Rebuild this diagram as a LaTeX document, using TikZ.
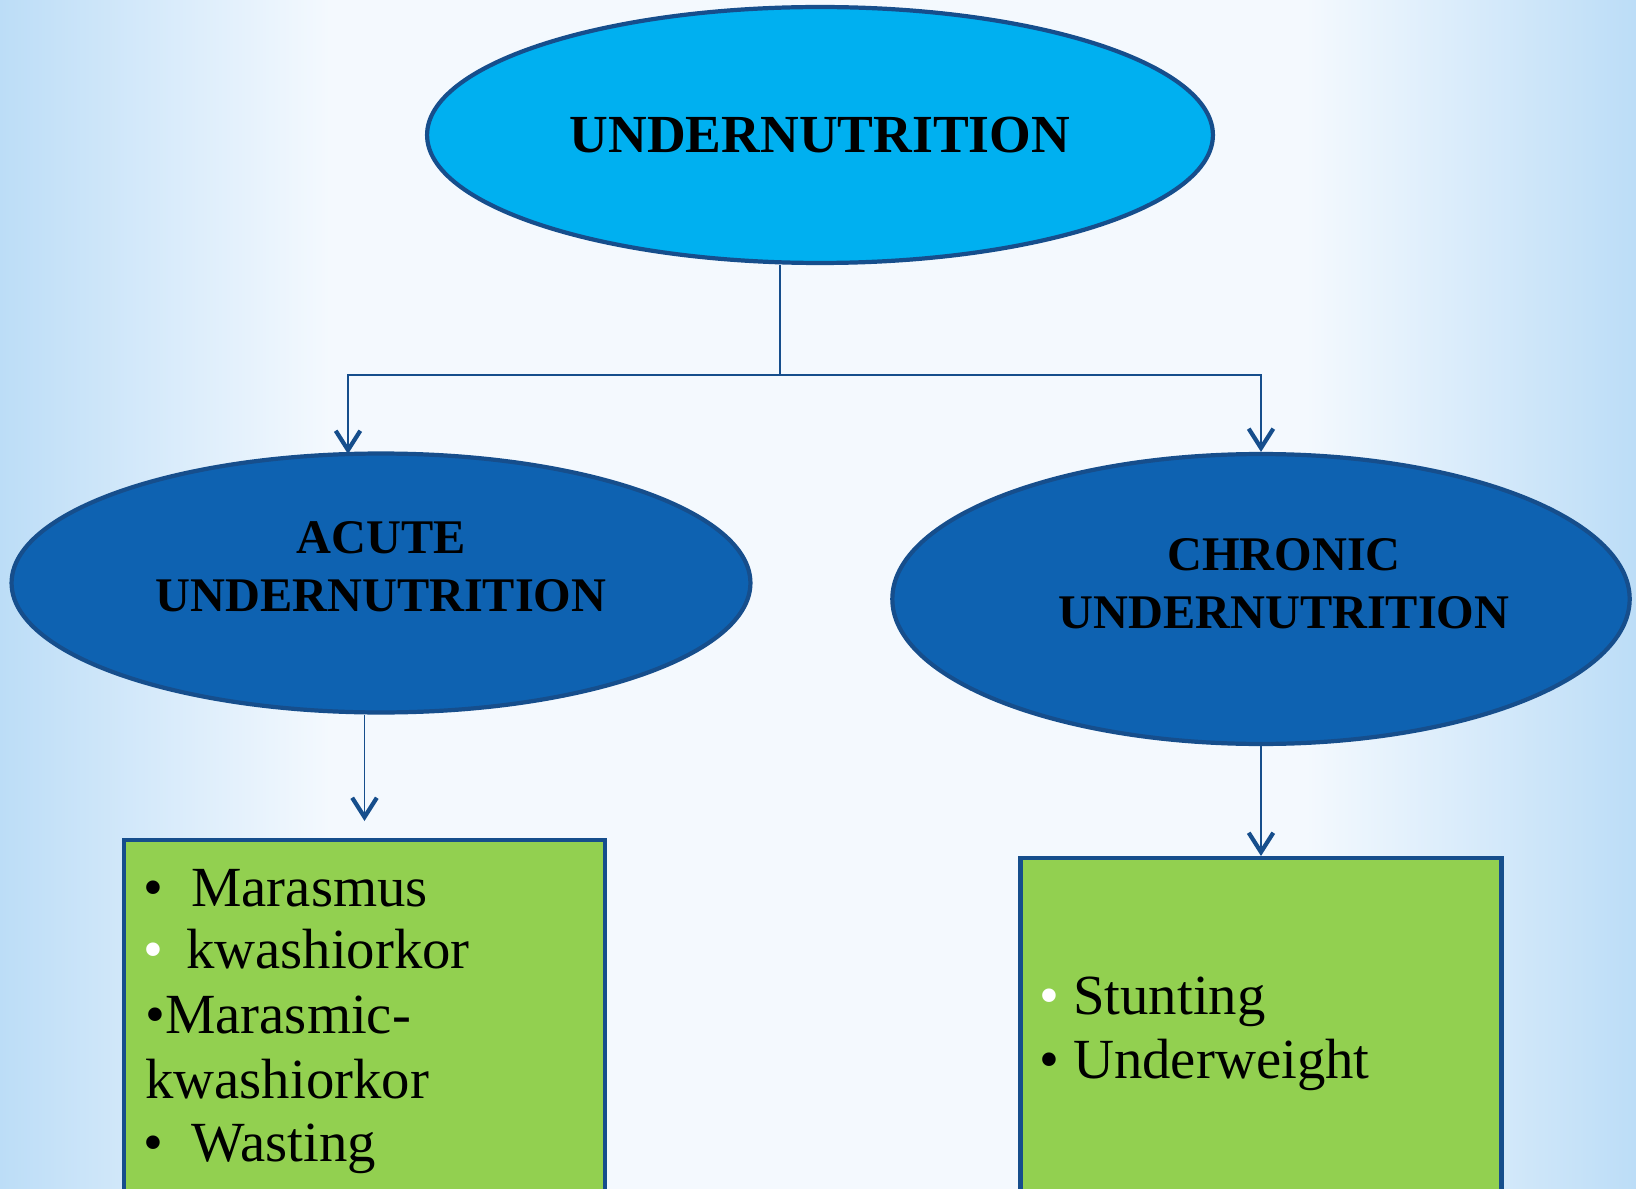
\documentclass[tikz,border=0pt]{standalone}
\usepackage{fontspec}
\setmainfont{Liberation Serif}
\usetikzlibrary{arrows.meta,shapes.geometric,fadings}

\definecolor{skyfill}{RGB}{0,176,240}
\definecolor{ovalfill}{RGB}{14,98,177}
\definecolor{ovalline}{RGB}{22,78,140}
\definecolor{listfill}{RGB}{146,208,80}
\definecolor{bgedge}{RGB}{188,221,247}
\definecolor{bgmid}{RGB}{244,249,254}

\tikzfading[name=bandfade, top color=transparent!100, middle color=transparent!0, bottom color=transparent!100]

\tikzset{
	oval/.style={ellipse, draw=ovalline, line width=2.4pt, fill=ovalfill},
	listbox/.style={rectangle, draw=ovalline, line width=2.4pt, fill=listfill, minimum width=9.62cm, anchor=north},
	headtxt/.style={font=\bfseries\fontsize{27.5}{33.2}\selectfont, align=center},
	listline/.style={anchor=base west, inner sep=0pt, font=\fontsize{32.3}{36}\selectfont},
	link/.style={ovalline, line width=1.1pt},
	arr/.style={link, -{Straight Barb[length=11pt,width=14pt,line width=2.4pt]}}
}

\begin{document}
\begin{tikzpicture}[x=0.02cm,y=-0.02cm]
	\useasboundingbox (0,0) rectangle (1636,1189);
	\clip (0,0) rectangle (1636,1189);
	\fill[bgmid] (0,0) rectangle (1636,1189);
	\shade[left color=bgedge, right color=bgmid] (0,0) rectangle (330,1189);
	\shade[left color=bgmid, right color=bgedge] (1306,0) rectangle (1636,1189);
	\fill[bgedge, opacity=0.6, path fading=bandfade] (0,770) rectangle (1636,930);

	\node[oval, fill=skyfill, minimum width=15.72cm, minimum height=5.12cm,
		font=\bfseries\fontsize{30.5}{36}\selectfont] (top) at (820,135) {UNDERNUTRITION};
	\node[oval, minimum width=14.78cm, minimum height=5.18cm,
		label={[headtxt, yshift=0.32cm]center:ACUTE\\UNDERNUTRITION}] (acute) at (381,583) {};
	\node[oval, minimum width=14.75cm, minimum height=5.8cm,
		label={[headtxt, yshift=0.3cm, xshift=0.46cm]center:CHRONIC\\UNDERNUTRITION}] (chronic) at (1261,599) {};

	\node[listbox, minimum height=7.4cm] (acuteList) at (364.5,838) {};
	\node[listbox, minimum height=7.2cm] (chronicList) at (1261,856) {};

	\node[listline] (l1) at (143,906) {•\hspace{16pt}Marasmus};
	\node[listline] (l2) at (143,968) {\textcolor{white}{•}\hspace{13pt}kwashiorkor};
	\node[listline] (l3) at (145,1033) {•Marasmic-};
	\node[listline] (l4) at (145,1098) {kwashiorkor};
	\node[listline] (l5) at (143,1161) {•\hspace{16pt}Wasting};
	\node[listline] (r1) at (1039,1014) {\textcolor{white}{•}\hspace{8pt}Stunting};
	\node[listline] (r2) at (1039,1078) {•\hspace{8pt}Underweight};

	\coordinate (split) at (780,375);
	\coordinate (acuteIn) at (348,454);
	\draw[link] (top.south -| split) -- (split);
	\draw[arr] (split) -| (acuteIn);
	\draw[arr] (split) -| (chronic.north);
	\draw[arr] (acuteList.north |- acute.south) -- ([yshift=0.34cm]acuteList.north);
	\draw[arr] (chronic.south) -- (chronicList.north);
\end{tikzpicture}
\end{document}
